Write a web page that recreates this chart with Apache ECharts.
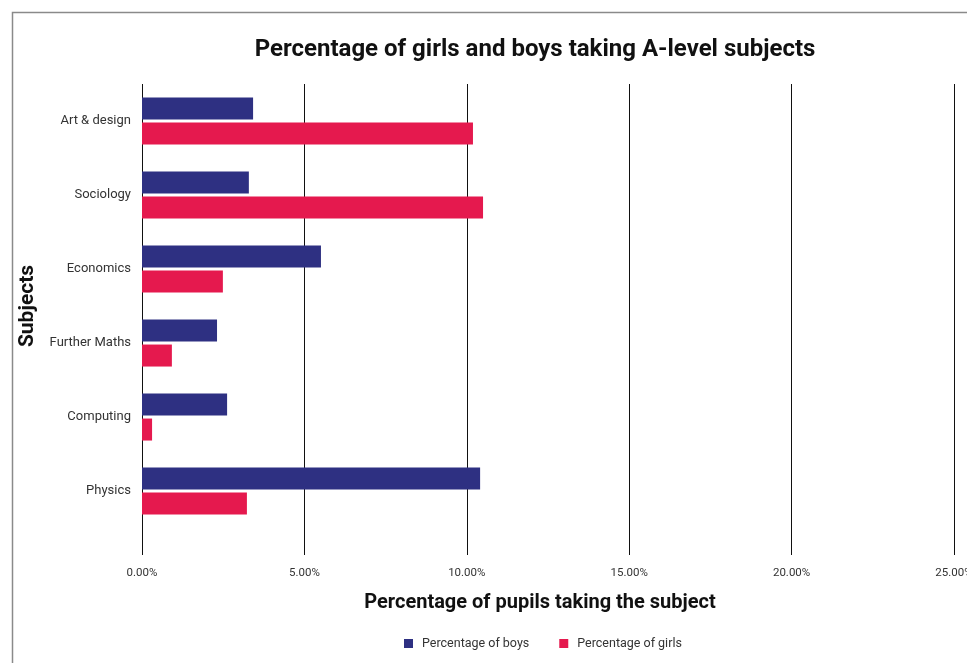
<!DOCTYPE html>
<html><head><meta charset="utf-8">
<script src="https://cdn.jsdelivr.net/npm/echarts@6/dist/echarts.min.js"></script>
<style>html,body{margin:0;padding:0;background:#fff;overflow:hidden}#c{width:967px;height:663px}</style>
</head><body><div id="c"></div>
<script>
const categories = ["Art & design","Sociology","Economics","Further Maths","Computing","Physics"];
const boys = [3.42, 3.29, 5.51, 2.31, 2.62, 10.41];
const girls = [10.19, 10.50, 2.49, 0.92, 0.31, 3.23];
const xTicks = [0, 5, 10, 15, 20, 25];
const seriesNames = ["Percentage of boys", "Percentage of girls"];

const chart = echarts.init(document.getElementById('c'));
const FONT = 'Roboto';
chart.setOption({
  animation: false,
  textStyle: {fontFamily: FONT},
  graphic: [{type:'rect', left: 10, top: 10, shape:{width: 1000, height: 700}, style:{fill:'none', stroke:'#8a8a8a', lineWidth: 1.5}, silent:true}],
  title: [
    {text: 'Percentage of girls and boys taking A-level subjects', left: 530, textAlign: 'center', top: 33,
      textStyle: {fontFamily: FONT, fontSize: 24, fontWeight: 'bold', color: '#111'}},
    {text: 'Percentage of pupils taking the subject', left: 535, textAlign: 'center', top: 588,
      textStyle: {fontFamily: FONT, fontSize: 20, fontWeight: 'bold', color: '#111'}}
  ],
  legend: {top: 632, left: 399, itemWidth: 9, itemHeight: 9, itemGap: 30, icon: 'rect',
    textStyle: {fontFamily: FONT, fontSize: 12.5, color: '#333', padding: [0, 0, 0, 4]}, data: seriesNames},
  grid: {left: 142, right: 13, top: 84, bottom: 135, containLabel: false, outerBoundsMode: 'none'},
  xAxis: {type: 'value', min: xTicks[0], max: xTicks[xTicks.length-1], interval: 5,
    axisLine: {show: false},
    axisTick: {show: true, length: 27, lineStyle: {color: '#111', width: 1}},
    splitLine: {show: true, lineStyle: {color: '#111', width: 1}},
    axisLabel: {margin: 39, fontSize: 11.5, color: '#333', formatter: v => v.toFixed(2) + '%'}},
  yAxis: {type: 'category', data: categories, inverse: true,
    name: 'Subjects', nameLocation: 'middle', nameGap: 96, nameRotate: 90,
    nameTextStyle: {fontFamily: FONT, fontSize: 21, fontWeight: 'bold', color: '#111'},
    axisLine: {show: false}, axisTick: {show: false},
    axisLabel: {margin: 11, fontSize: 13, color: '#333'}},
  series: [
    {name: seriesNames[0], type: 'bar', data: boys, barWidth: 22, barGap: '14%', itemStyle: {color: '#2E3082'}},
    {name: seriesNames[1], type: 'bar', data: girls, barWidth: 22, barGap: '14%', itemStyle: {color: '#E5194E'}}
  ]
});
</script></body></html>
